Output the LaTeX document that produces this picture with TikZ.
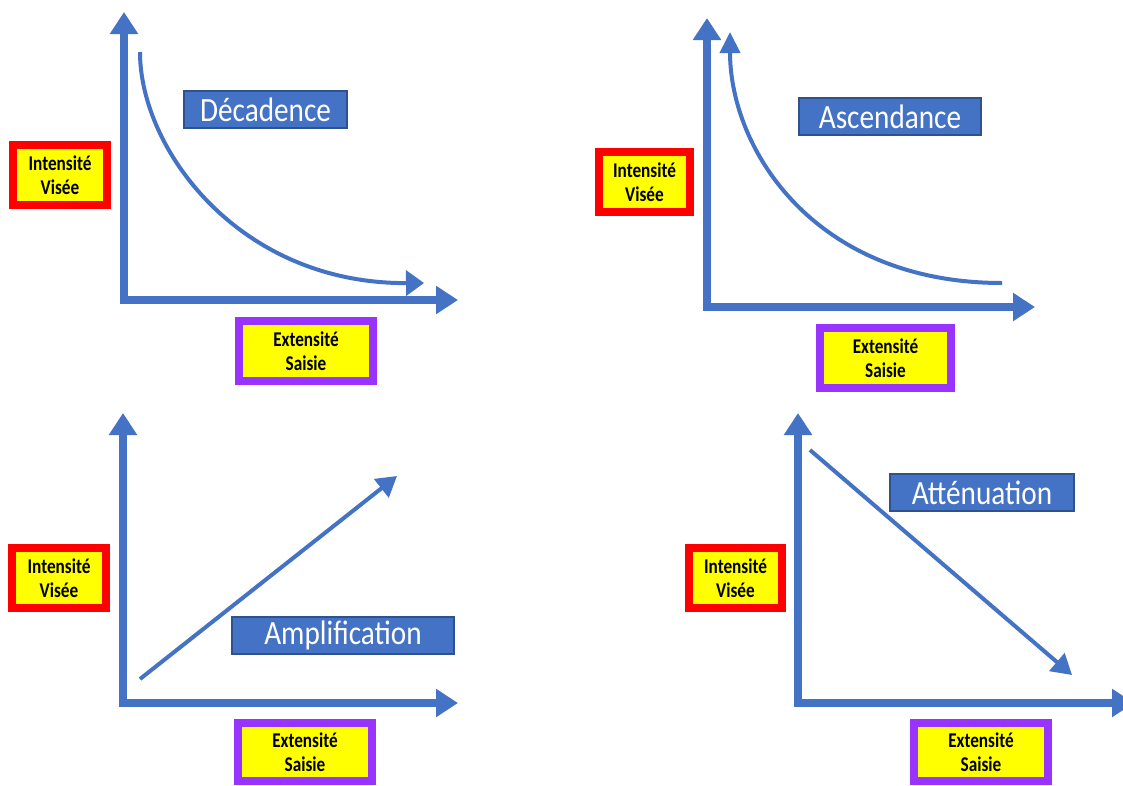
\documentclass[tikz,border=0pt]{standalone}
\usepackage{fontspec}
\usetikzlibrary{arrows.meta}
\newfontfamily\lblfont[FakeStretch=0.82]{Carlito}
\newfontfamily\ttlfont[FakeStretch=0.86]{Carlito}
\definecolor{axisblue}{HTML}{4472C4}
\definecolor{ttlborder}{HTML}{2F528F}
\definecolor{lblyellow}{HTML}{FFFF00}
\definecolor{lblred}{HTML}{FF0000}
\definecolor{lblpurple}{HTML}{9933FF}
\tikzset{
  axisline/.style={draw=axisblue, line width=8pt, line cap=rect, -{Triangle[length=22pt,width=27pt]}},
  trendline/.style={draw=axisblue, line width=4pt, -{Triangle[length=18pt,width=25pt]}},
  titlebox/.style={draw=ttlborder, fill=axisblue, line width=1.5pt, text=white, inner sep=0pt,
    font=\ttlfont\fontsize{34}{38}\selectfont},
  ibox/.style={draw=lblred, fill=lblyellow, line width=8pt, inner sep=0pt, align=center,
    minimum width=94pt, minimum height=60pt, font=\lblfont\bfseries\fontsize{21}{24}\selectfont},
  ebox/.style={draw=lblpurple, fill=lblyellow, line width=8pt, inner sep=0pt, align=center,
    minimum width=134pt, minimum height=60pt, font=\lblfont\bfseries\fontsize{21}{24}\selectfont},
}
\begin{document}
\begin{tikzpicture}[x=1pt,y=-1pt]
\useasboundingbox[fill=white] (0,0) rectangle (1123,785);
\clip (0,0) rectangle (1123,785);

% ---------- Panel 1 : Décadence ----------
\coordinate (o1) at (124,300);
\coordinate (y1) at (124,12);
\coordinate (x1) at (458,300);
\draw[axisline] (o1) -- (y1);
\draw[axisline] (o1) -- (x1);
\coordinate (c1s) at (140,52);
\coordinate (c1e) at (424,283);
\draw[trendline] (c1s) .. controls (140,150) and (240,284) .. (c1e);
\node[titlebox, minimum width=163pt, minimum height=37pt] (t1) at (265.5,109.5) {Décadence};
\node[ibox] (i1) at (60,175) {Intensité\\Visée};
\node[ebox] (e1) at (306,351) {Extensité\\Saisie};

% ---------- Panel 2 : Ascendance ----------
\coordinate (o2) at (707,307);
\coordinate (y2) at (707,18);
\coordinate (x2) at (1035,307);
\draw[axisline] (o2) -- (y2);
\draw[axisline] (o2) -- (x2);
\coordinate (c2s) at (1002,283);
\coordinate (c2e) at (730,32);
\draw[trendline, -{Triangle[length=21pt,width=20pt]}] (c2s) .. controls (815,283) and (730,150) .. (c2e);
\node[titlebox, minimum width=182pt, minimum height=37pt] (t2) at (890,116.5) {Ascendance};
\node[ibox, minimum width=91pt] (i2) at (644.5,182) {Intensité\\Visée};
\node[ebox, minimum width=131pt] (e2) at (885.5,358) {Extensité\\Saisie};

% ---------- Panel 3 : Amplification ----------
\coordinate (o3) at (123,703);
\coordinate (y3) at (123,413);
\coordinate (x3) at (458,703);
\draw[axisline] (o3) -- (y3);
\draw[axisline] (o3) -- (x3);
\coordinate (l3s) at (140,679);
\coordinate (l3e) at (397,476);
\draw[trendline, -{Triangle[length=20pt,width=23pt]}] (l3s) -- (l3e);
\node[titlebox, minimum width=222pt, minimum height=37pt] (t3) at (343,635.5) {Amplification};
\node[ibox] (i3) at (59,578) {Intensité\\Visée};
\node[ebox, minimum height=58pt] (e3) at (305,752) {Extensité\\Saisie};

% ---------- Panel 4 : Atténuation ----------
\coordinate (o4) at (798,703);
\coordinate (y4) at (798,413);
\coordinate (x4) at (1134,703);
\draw[axisline] (o4) -- (y4);
\draw[axisline] (o4) -- (x4);
\coordinate (l4s) at (810,450);
\coordinate (l4e) at (1072,675);
\draw[trendline, -{Triangle[length=20pt,width=23pt]}] (l4s) -- (l4e);
\node[titlebox, minimum width=184pt, minimum height=37pt] (t4) at (982,492.5) {Atténuation};
\node[ibox, minimum width=93pt] (i4) at (735.5,578) {Intensité\\Visée};
\node[ebox, minimum height=58pt] (e4) at (981,752) {Extensité\\Saisie};
\end{tikzpicture}
\end{document}
